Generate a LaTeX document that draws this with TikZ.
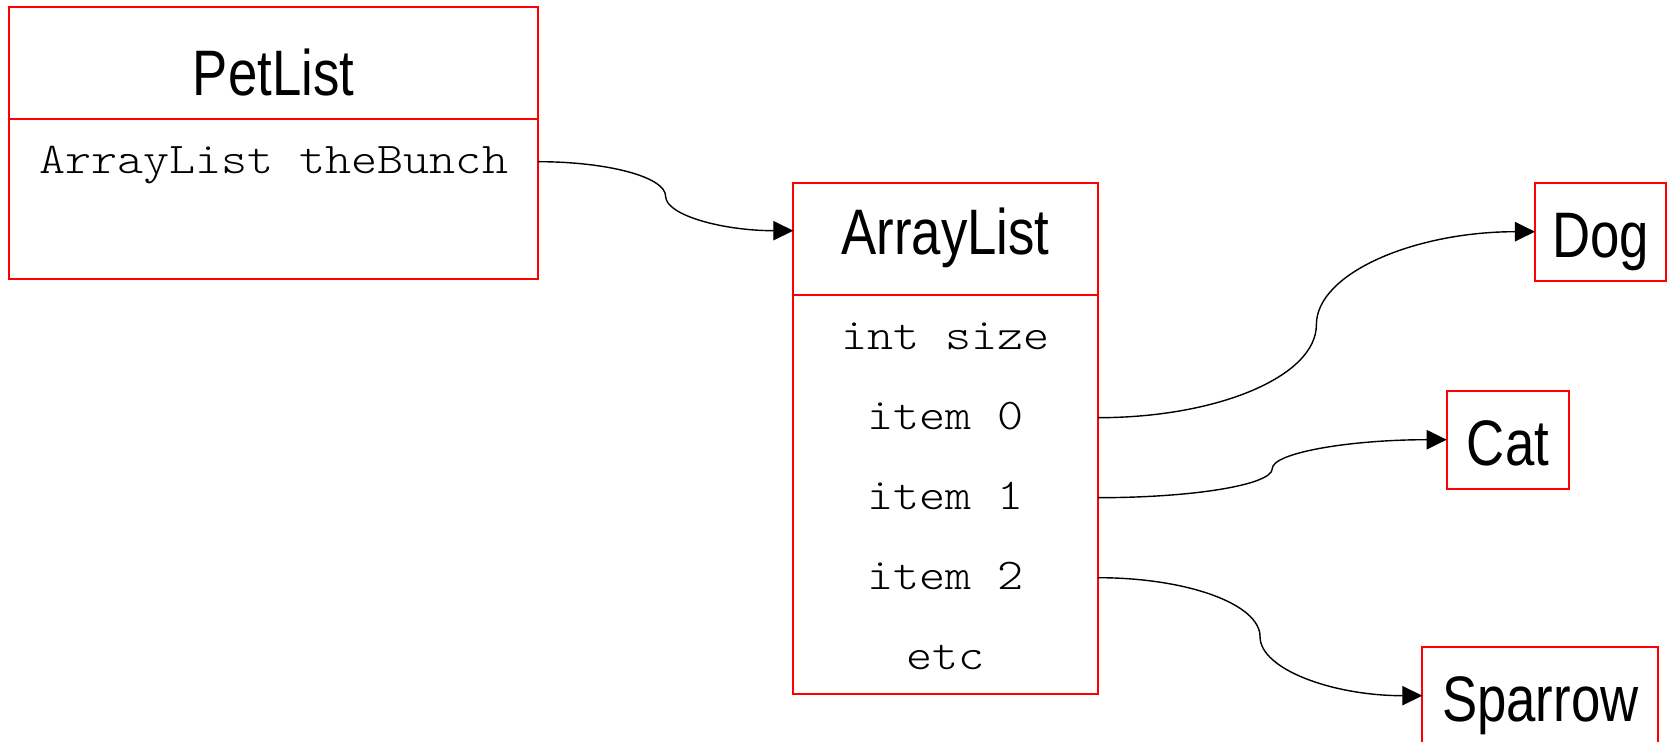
\documentclass[tikz,border=0pt]{standalone}
\usepackage{fontspec}
\setmonofont[FakeStretch=1.13]{lmmonolt10-regular.otf}
\newfontfamily\namefont[FakeStretch=0.82]{Liberation Sans}
\usetikzlibrary{positioning,calc,arrows.meta}

\begin{document}
\begin{tikzpicture}

	\tikzset{
	  umlbox/.style={draw=red, line width=0.5pt, inner sep=0pt, outer sep=0pt},
	  classhead/.style={umlbox, minimum height=1.12cm,
		font=\namefont\fontsize{18.3}{22}\selectfont},
	  pet/.style={classhead, minimum height=0.98cm, text height=14.4pt, text depth=0pt},
	  member/.style={inner sep=0pt, outer sep=0pt, minimum height=0.8cm,
		text height=7pt, text depth=0pt,
		font=\ttfamily\fontsize{12.5}{15}\selectfont},
	  % two quarter ellipses, vertical at the half way point
	  pointer/.style={line width=0.4pt, -{Triangle[length=5.7pt,width=5.5pt]},
		to path={let \p1=(\tikztostart), \p2=(\tikztotarget),
		  \p3=($(\p1)!0.5!(\p2)$) in
		  .. controls ($(\p1)!0.552!(\x3,\y1)$) and ($(\p3)!0.552!(\x3,\y1)$) .. (\p3)
		  .. controls ($(\p3)!0.552!(\x3,\y2)$) and ($(\p2)!0.552!(\x3,\y2)$) .. (\p2)}},
	}
	\useasboundingbox (0,0) rectangle (16.67,-7.42);

	% PetList
	\node[classhead, minimum width=5.286cm, anchor=north west,
	  text height=19pt, text depth=0.5pt] (petlist) at (0.093,-0.067) {PetList};
	\node[umlbox, minimum width=5.286cm, minimum height=1.6cm, below=0pt of petlist] (petbody) {};
	\node[member, minimum width=5.286cm, below=0.03cm of petbody.north] (bunch) {ArrayList theBunch};

	% ArrayList
	\node[classhead, minimum width=3.045cm, anchor=north west,
	  text height=10pt, text depth=0.8pt] (arraylist) at (7.933,-1.827) {ArrayList};
	\node[umlbox, minimum width=3.045cm, minimum height=3.993cm, below=0pt of arraylist] (listbody) {};
	\node[member, minimum width=3.045cm, below=0.03cm of listbody.north] (size) {int size};
	\node[member, minimum width=3.045cm, below=0pt of size] (item0) {item 0};
	\node[member, minimum width=3.045cm, below=0pt of item0] (item1) {item 1};
	\node[member, minimum width=3.045cm, below=0pt of item1] (item2) {item 2};
	\node[member, minimum width=3.045cm, below=0pt of item2] (etc) {etc};

	% the pets
	\node[pet, minimum width=1.31cm, anchor=north west] (dog) at (15.35,-1.827) {Dog};
	\node[pet, minimum width=1.226cm, anchor=north west] (cat) at (14.467,-3.907) {Cat};
	\node[pet, minimum width=2.36cm, anchor=north west] (sparrow) at (14.223,-6.467) {Sparrow};

	\draw[pointer] (bunch.east) to ([yshift=0.08cm]arraylist.west);
	\draw[pointer] (item0.east) to (dog.west);
	\draw[pointer] (item1.east) to (cat.west);
	\draw[pointer] (item2.east) to (sparrow.west);

\end{tikzpicture}
\end{document}
